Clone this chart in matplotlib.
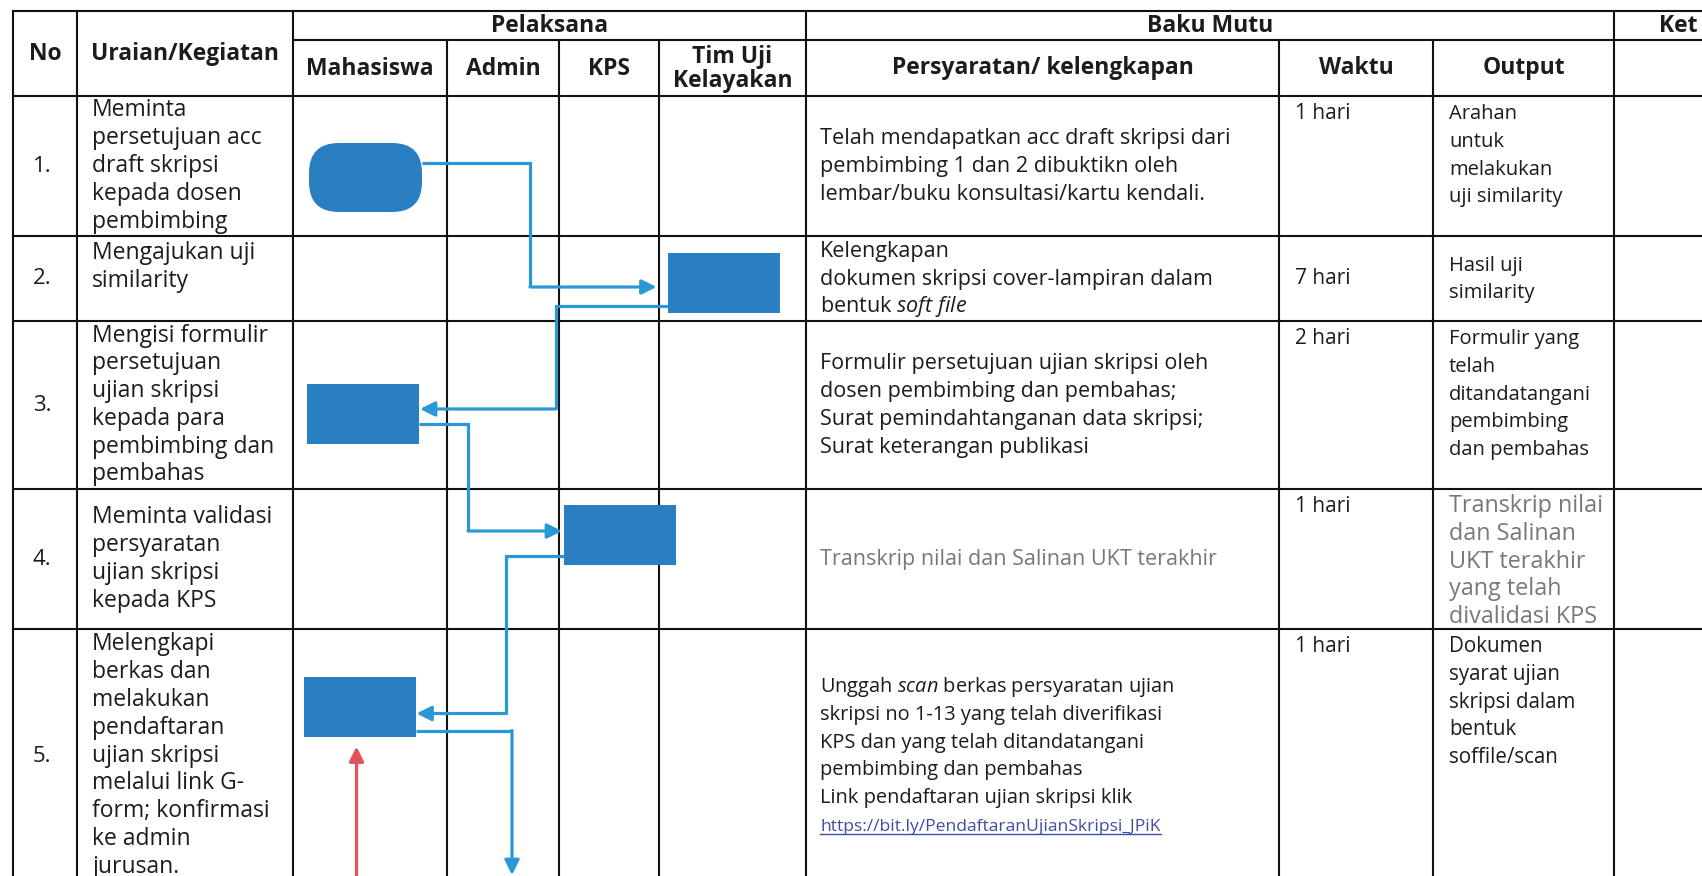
import matplotlib.pyplot as plt
from matplotlib.patches import FancyBboxPatch

plt.rcParams['font.family'] = ['Open Sans', 'DejaVu Sans']
plt.rcParams['mathtext.fontset'] = 'custom'
plt.rcParams['mathtext.rm'] = 'Open Sans'
plt.rcParams['mathtext.it'] = 'Open Sans:italic'

# ---- table content ----
lanes = ['Mahasiswa', 'Admin', 'KPS', 'Tim Uji\nKelayakan']
baku_mutu_cols = ['Persyaratan/ kelengkapan', 'Waktu', 'Output']

step_no = ['1.', '2.', '3.', '4.', '5.']
step_uraian = [
    'Meminta\npersetujuan acc\ndraft skripsi\nkepada dosen\npembimbing',
    'Mengajukan uji\nsimilarity',
    'Mengisi formulir\npersetujuan\nujian skripsi\nkepada para\npembimbing dan\npembahas',
    'Meminta validasi\npersyaratan\nujian skripsi\nkepada KPS',
    'Melengkapi\nberkas dan\nmelakukan\npendaftaran\nujian skripsi\nmelalui link G-\nform; konfirmasi\nke admin\njurusan.',
]
step_lane = [0, 3, 0, 2, 0]
step_shape = ['terminator', 'process', 'process', 'process', 'process']
step_syarat = [
    'Telah mendapatkan acc draft skripsi dari\npembimbing 1 dan 2 dibuktikn oleh\nlembar/buku konsultasi/kartu kendali.',
    'Kelengkapan\ndokumen skripsi cover-lampiran dalam\nbentuk $\\mathit{soft\\ file}$',
    'Formulir persetujuan ujian skripsi oleh\ndosen pembimbing dan pembahas;\nSurat pemindahtanganan data skripsi;\nSurat keterangan publikasi',
    'Transkrip nilai dan Salinan UKT terakhir',
    'Unggah $\\mathit{scan}$ berkas persyaratan ujian\nskripsi no 1-13 yang telah diverifikasi\nKPS dan yang telah ditandatangani\npembimbing dan pembahas\nLink pendaftaran ujian skripsi klik',
]
step_link = [None, None, None, None, 'https://bit.ly/PendaftaranUjianSkripsi_JPiK']
step_waktu = ['1 hari', '7 hari', '2 hari', '1 hari', '1 hari']
step_output = [
    'Arahan\nuntuk\nmelakukan\nuji similarity',
    'Hasil uji\nsimilarity',
    'Formulir yang\ntelah\nditandatangani\npembimbing\ndan pembahas',
    'Transkrip nilai\ndan Salinan\nUKT terakhir\nyang telah\ndivalidasi KPS',
    'Dokumen\nsyarat ujian\nskripsi dalam\nbentuk\nsoffile/scan',
]
step_muted = [False, False, False, True, False]

# ---- layout (pixels) ----
W, H = 1702, 876
COL_X = [13, 77, 293, 447, 559, 659, 806, 1279, 1433, 1614, 1760]
HEAD_Y = [11, 40, 96]
ROW_Y = [96, 236, 321, 489, 629, 882]
PITCH = 27.8
TOP_PAD = 17
BASE_SHIFT = 6

BOX_DX = [-4.5, -9, -7, 11, -10.5]
BOX_DY = [11.5, 4.5, 9, -24, -49]
BOX_W, BOX_H = 112, 60
TERM_W, TERM_H = 113, 69

CONN_OUT_DY = [20, 53, 40, 51, 54]
CONN_VIA_X = [530, 556, 468, 506, 512]
CONN_IN_DY = [34, 25, 26, 37]
ARROW_GAP = [11, 1, 2, 1]

URAIAN_MODE = ['center', 'top', 'center', 'center', 'center']
WAKTU_MODE = ['top', 'center', 'top', 'top', 'top']
OUTPUT_MODE = ['top', 'center', 'top', 'top', 'top']

# font sizes per column (pt), with per-row overrides
NO_SIZE = 16
URAIAN_SIZE = 16.5
SYARAT_SIZE = [15.6, 15.5, 15.5, 15.5, 14.4]
LINK_SIZE = 12.6
WAKTU_SIZE = 15
OUTPUT_SIZE = [14.5, 14.5, 14.5, 16.8, 14.8]
HEAD_SIZE = 16.5

INK = '#1c1c1c'
MUTED = '#787878'
BOX_BLUE = '#2a7ec2'
LINE_BLUE = '#2b98d6'
RED = '#e4525c'
LINK = '#3d4ea6'

fig = plt.figure(figsize=(W / 100, H / 100), dpi=100)
ax = fig.add_axes([0, 0, 1, 1])
ax.set_xlim(0, W)
ax.set_ylim(H, 0)
ax.axis('off')

# ---- grid ----
grid_kw = dict(color='#111111', lw=1.5, zorder=2)
right = COL_X[-1]
ax.plot([COL_X[0], right], [HEAD_Y[0]] * 2, **grid_kw)
ax.plot([COL_X[2], right], [HEAD_Y[1]] * 2, **grid_kw)
for y in ROW_Y:
    ax.plot([COL_X[0], right], [y, y], **grid_kw)
for i, x in enumerate(COL_X[:-1]):
    top = HEAD_Y[0] if i in (0, 1, 2, 6, 9) else HEAD_Y[1]
    ax.plot([x, x], [top, ROW_Y[-1]], **grid_kw)

# ---- headers ----
head_kw = dict(fontsize=HEAD_SIZE, fontweight='bold', color=INK, ha='center', va='center')
mid_all = (HEAD_Y[0] + HEAD_Y[2]) / 2
mid_top = (HEAD_Y[0] + HEAD_Y[1]) / 2
mid_sub = (HEAD_Y[1] + HEAD_Y[2]) / 2
ax.text((COL_X[0] + COL_X[1]) / 2, mid_all, 'No', **head_kw)
ax.text((COL_X[1] + COL_X[2]) / 2, mid_all, 'Uraian/Kegiatan', **head_kw)
ax.text((COL_X[2] + COL_X[6]) / 2, mid_top, 'Pelaksana', **head_kw)
ax.text((COL_X[6] + COL_X[9]) / 2, mid_top, 'Baku Mutu', **head_kw)
ax.text(COL_X[9] + 45, mid_top, 'Ket', **{**head_kw, 'ha': 'left'})
for i, name in enumerate(lanes):
    ax.text((COL_X[2 + i] + COL_X[3 + i]) / 2, mid_sub + 1, name, linespacing=1.05, **head_kw)
for i, name in enumerate(baku_mutu_cols):
    ax.text((COL_X[6 + i] + COL_X[7 + i]) / 2, mid_sub, name, **head_kw)


def cell_text(x, row, text, mode, size, color=INK, ha='left'):
    lines = text.split('\n')
    top, bot = ROW_Y[row], ROW_Y[row + 1]
    if mode == 'center':
        c0 = (top + bot) / 2 - (len(lines) - 1) / 2 * PITCH
    else:
        c0 = top + TOP_PAD
    artists = []
    for i, line in enumerate(lines):
        base = c0 + i * PITCH + BASE_SHIFT
        t = ax.text(x, base, line, ha=ha, va='baseline', fontsize=size, color=color, zorder=3)
        artists.append((t, base))
    return artists


link_items = []
for r in range(len(step_no)):
    colr = MUTED if step_muted[r] else INK
    cell_text((COL_X[0] + COL_X[1]) / 2 - 3, r, step_no[r], 'center', NO_SIZE, ha='center')
    cell_text(COL_X[1] + 15, r, step_uraian[r], URAIAN_MODE[r], URAIAN_SIZE)
    syarat = step_syarat[r]
    if step_link[r]:
        syarat = syarat + '\n' + step_link[r]
    arts = cell_text(COL_X[6] + 14, r, syarat, 'center', SYARAT_SIZE[r], color=colr)
    if step_link[r]:
        t, base = arts[-1]
        t.set_color(LINK)
        t.set_fontsize(LINK_SIZE)
        link_items.append((t, base))
    cell_text(COL_X[7] + 16, r, step_waktu[r], WAKTU_MODE[r], WAKTU_SIZE)
    cell_text(COL_X[8] + 16, r, step_output[r], OUTPUT_MODE[r], OUTPUT_SIZE[r], color=colr)

# ---- flow boxes ----
boxes = []
for r, lane in enumerate(step_lane):
    cx = (COL_X[2 + lane] + COL_X[3 + lane]) / 2 + BOX_DX[r]
    cy = (ROW_Y[r] + ROW_Y[r + 1]) / 2 + BOX_DY[r]
    if step_shape[r] == 'terminator':
        w, h, style = TERM_W, TERM_H, 'round,pad=0,rounding_size=30'
    else:
        w, h, style = BOX_W, BOX_H, 'square,pad=0'
    x0, y0 = cx - w / 2, cy - h / 2
    ax.add_patch(FancyBboxPatch((x0, y0), w, h, boxstyle=style,
                                facecolor=BOX_BLUE, edgecolor='none', zorder=4))
    boxes.append((x0, y0, w, h))


def elbow(points, color):
    xs = [p[0] for p in points]
    ys = [p[1] for p in points]
    ax.plot(xs[:-1], ys[:-1], color=color, lw=2.3, solid_joinstyle='miter',
            solid_capstyle='butt', zorder=5)
    ax.annotate('', xy=points[-1], xytext=points[-2],
                arrowprops=dict(arrowstyle='-|>', color=color, lw=2.3,
                                shrinkA=0, shrinkB=0, mutation_scale=22),
                zorder=5)


for i in range(len(boxes)):
    x0, y0, w, h = boxes[i]
    x_via = CONN_VIA_X[i]
    out_right = x_via > x0 + w / 2
    sx = x0 + w if out_right else x0
    sy = y0 + CONN_OUT_DY[i]
    if i + 1 < len(boxes):
        nx0, ny0, nw, nh = boxes[i + 1]
        ty = ny0 + CONN_IN_DY[i]
        tx = nx0 - ARROW_GAP[i] if x_via < nx0 else nx0 + nw + ARROW_GAP[i]
        elbow([(sx, sy), (x_via, sy), (x_via, ty), (tx, ty)], LINE_BLUE)
    else:
        elbow([(sx, sy), (x_via, sy), (x_via, H - 1)], LINE_BLUE)

# incoming arrow from the next (off-page) step into the last box
lx0, ly0, lw_, lh_ = boxes[-1]
elbow([(lx0 + lw_ / 2 - 3, H + 10), (lx0 + lw_ / 2 - 3, ly0 + lh_ + 10)], RED)

# ---- underline for link ----
fig.canvas.draw()
inv = ax.transData.inverted()
for t, base in link_items:
    bb = t.get_window_extent()
    (xa, _), (xb, _) = inv.transform([[bb.x0, bb.y0], [bb.x1, bb.y1]])
    ax.plot([xa, xb], [base + 3, base + 3], color=LINK, lw=1.0, zorder=3)

fig.savefig('out.png', dpi=100, facecolor='white')
